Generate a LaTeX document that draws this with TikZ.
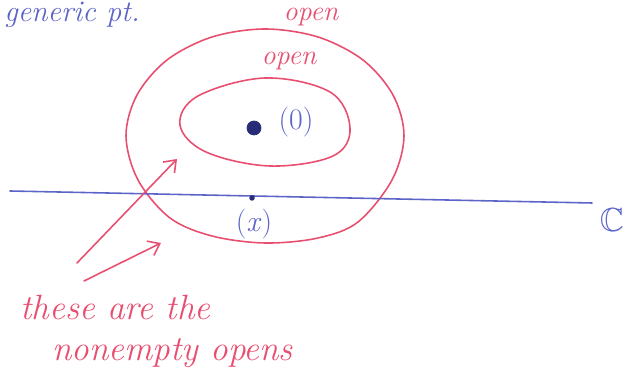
\documentclass[tikz,border=0pt]{standalone}
\usepackage{amssymb}
\definecolor{pen}{RGB}{232,78,112}
\definecolor{ink}{RGB}{92,100,200}
\definecolor{inkdark}{RGB}{40,44,120}
\tikzset{
  penline/.style={draw=pen, line width=0.9pt, line cap=round, line join=round},
  inkline/.style={draw=ink, line width=0.9pt, line cap=round},
  pentext/.style={text=pen, inner sep=0pt, font=\itshape},
  inktext/.style={text=ink, inner sep=0pt},
  penarrow/.style={penline, -{Straight Barb[length=6pt,width=9pt]}},
}
\usetikzlibrary{arrows.meta}
\begin{document}
\begin{tikzpicture}[x=0.02cm,y=-0.02cm]
\useasboundingbox (0,0) rectangle (640,384);
% outer open set
\draw[penline] plot[smooth cycle, tension=0.55] coordinates {
  (404,136) (393,95) (363,60) (318,37) (265,29) (212,37) (167,60) (137,95)
  (126,136) (138,180) (170,218) (212,236) (265,243) (318,238) (358,222) (392,180)};
% inner open set
\draw[penline] plot[smooth cycle, tension=0.6] coordinates {
  (180,125) (198,96) (265,78) (330,92) (350,128) (333,156) (270,166) (206,152)};
% the line
\coordinate (lineL) at (10,191);
\coordinate (lineR) at (592,203);
\draw[inkline] (lineL) -- (lineR);
% points
\node[circle, fill=inkdark, draw=inkdark, minimum size=14*0.02cm, inner sep=0pt] (gp) at (254,128) {};
\node[circle, fill=inkdark, minimum size=5.5*0.02cm, inner sep=0pt] (xp) at (252,198) {};
% labels
\node[inktext, font=\fontsize{17}{18}\selectfont] (olab) at (296,122) {(0)};
\node[inktext, font=\fontsize{17}{18}\selectfont] (xlab) at (254,224) {(\textit{x})};
\node[inktext, font=\fontsize{19}{20}\selectfont] (C) at (612,220) {$\mathbb{C}$};
\node[inktext, font=\itshape\fontsize{17}{18}\selectfont, anchor=west] (gen) at (4,15) {generic pt.};
\node[pentext, font=\itshape\fontsize{16}{17}\selectfont] (open1) at (311,17) {open};
\node[pentext, font=\itshape\fontsize{16}{17}\selectfont] (open2) at (289,61) {open};
\node[pentext, font=\itshape\fontsize{20}{22}\selectfont, anchor=west] (these) at (20,307) {these are the};
\node[pentext, font=\itshape\fontsize{20}{22}\selectfont, anchor=west] (nonempty) at (52,353) {nonempty opens};
% arrows
\coordinate (a1s) at (77,263);
\coordinate (a1e) at (177,159);
\coordinate (a2s) at (84,281);
\coordinate (a2e) at (161,243);
\draw[penarrow] (a1s) -- (a1e);
\draw[penarrow] (a2s) -- (a2e);
\end{tikzpicture}
\end{document}
